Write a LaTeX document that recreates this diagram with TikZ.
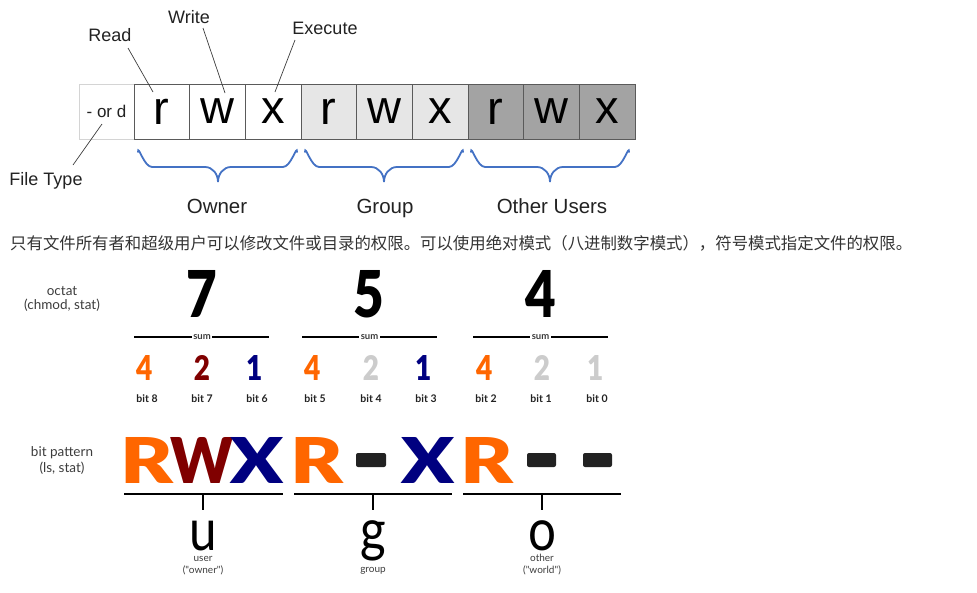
\documentclass[tikz,border=0pt]{standalone}
\usepackage{fontspec}
\usepackage{graphicx}
\setmainfont{Liberation Sans}
\newfontfamily\cjkfnt{Noto Sans CJK SC}
\newfontfamily\latofnt{Lato}
\IfFontExistsTF{Lato Black}{\newfontfamily\heavyfnt{Lato Black}}{%
  \IfFontExistsTF{Fira Sans Heavy}{\newfontfamily\heavyfnt{Fira Sans Heavy}}{%
    \newfontfamily\heavyfnt{DejaVu Sans Bold}}}
\newcommand\fsz[1]{\fontsize{#1}{#1}\selectfont}
\definecolor{cellborder}{HTML}{5A5A5A}
\definecolor{lightborder}{HTML}{D4D4D4}
\definecolor{grpfill}{HTML}{E6E6E6}
\definecolor{othfill}{HTML}{A3A3A3}
\definecolor{bracecol}{HTML}{4472C4}
\definecolor{txt}{HTML}{222222}
\definecolor{leader}{HTML}{3C3C3C}
\definecolor{orng}{HTML}{FF6600}
\definecolor{dred}{HTML}{800000}
\definecolor{nvy}{HTML}{000080}
\definecolor{lgr}{HTML}{CCCCCC}
\definecolor{cjktxt}{HTML}{333333}
\definecolor{lbltxt}{HTML}{3C3C3C}
\begin{document}
\begin{tikzpicture}[x=1pt,y=-1pt,
  cell/.style={draw=cellborder, line width=0.8pt, minimum width=55.67pt, minimum height=55pt, inner sep=0pt, font=\fsz{47}, text=black},
  toplbl/.style={inner sep=0pt, anchor=base, font=\fsz{18}, text=txt},
  grplbl/.style={inner sep=0pt, anchor=base, font=\fsz{20.5}, text=txt},
  leaderline/.style={draw=leader, line width=0.7pt},
  bracepath/.style={draw=bracecol, line width=1.8pt, line cap=round},
  sidelbl/.style={inner sep=0pt, font=\latofnt\fsz{13.5}, text=lbltxt},
  sumline/.style={draw=black, line width=1.6pt},
  sumlbl/.style={fill=white, inner sep=1.5pt, font=\latofnt\bfseries\fsz{9.5}, text=lbltxt},
  bitlbl/.style={inner sep=0pt, font=\latofnt\bfseries\fsz{10.5}, text=txt},
  glyph/.style={inner sep=0pt},
  dashbar/.style={fill=txt, rounded corners=2pt},
  ugoline/.style={draw=black, line width=2.6pt},
  ugotick/.style={draw=black, line width=2.4pt},
  ugo/.style={inner sep=0pt, anchor=base, font=\latofnt\fsz{58}, text=black},
  ugolbl/.style={inner sep=0pt, anchor=base, font=\latofnt\fsz{10}, text=lbltxt}
]
\useasboundingbox (0,0) rectangle (977,592);

% ---------------- top: permission cells ----------------
\node[draw=lightborder, line width=0.8pt, minimum width=55pt, minimum height=55pt, inner sep=0pt, font=\fsz{17}, text=txt] (ftbox) at (106.5,111.5) {- or d};
\node[cell] (c1) at (161.8,111.5) {\raisebox{-1.5pt}{r}};
\node[cell] (c2) at (217.5,111.5) {\raisebox{-1.5pt}{w}};
\node[cell] (c3) at (273.2,111.5) {\raisebox{-1.5pt}{x}};
\node[cell, fill=grpfill] (c4) at (328.8,111.5) {\raisebox{-1.5pt}{r}};
\node[cell, fill=grpfill] (c5) at (384.5,111.5) {\raisebox{-1.5pt}{w}};
\node[cell, fill=grpfill] (c6) at (440.2,111.5) {\raisebox{-1.5pt}{x}};
\node[cell, fill=othfill] (c7) at (495.8,111.5) {\raisebox{-1.5pt}{r}};
\node[cell, fill=othfill] (c8) at (551.5,111.5) {\raisebox{-1.5pt}{w}};
\node[cell, fill=othfill] (c9) at (607.2,111.5) {\raisebox{-1.5pt}{x}};

\node[toplbl] (read) at (110,41) {Read};
\node[toplbl] (write) at (189,23) {Write};
\node[toplbl] (exec) at (325,34) {Execute};
\node[toplbl] (ftype) at (46,185) {File Type};

\coordinate (readA) at (128,48);  \coordinate (readB) at (153,92);
\coordinate (writeA) at (203,28); \coordinate (writeB) at (225,93);
\coordinate (execA) at (295,40);  \coordinate (execB) at (275,92);
\coordinate (ftA) at (102,124);   \coordinate (ftB) at (73,165);
\draw[leaderline] (readA) -- (readB);
\draw[leaderline] (writeA) -- (writeB);
\draw[leaderline] (execA) -- (execB);
\draw[leaderline] (ftA) -- (ftB);

% braces
\foreach \a/\m/\b in {138/218/297, 305/384/463, 471/550/629}{
  \draw[bracepath] (\a,152) to[out=90,in=180] ++(14,15) -- (\m-13,167)
     to[out=0,in=90] (\m,182) to[out=90,in=180] (\m+13,167) -- (\b-14,167)
     to[out=0,in=90] (\b,152);
}
\node[grplbl] (owner) at (217,213) {Owner};
\node[grplbl] (group) at (385,213) {Group};
\node[grplbl] (others) at (552,213) {Other Users};

% ---------------- Chinese sentence ----------------
\node[anchor=west, inner sep=0pt, font=\cjkfnt\fsz{16.4}, text=cjktxt] (note) at (10,243)
  {只有文件所有者和超级用户可以修改文件或目录的权限。可以使用绝对模式（八进制数字模式），符号模式指定文件的权限。};

% ---------------- octal row ----------------
\node[sidelbl] (octat) at (62,291) {octat};
\node[sidelbl] (octat2) at (62,305) {(chmod, stat)};
\node[glyph] (o7) at (202,294) {\resizebox{!}{47pt}{\scalebox{0.82}[1]{\heavyfnt 7}}};
\node[glyph] (o5) at (369,294) {\resizebox{!}{47pt}{\scalebox{0.82}[1]{\heavyfnt 5}}};
\node[glyph] (o4) at (541,294) {\resizebox{!}{47pt}{\scalebox{0.82}[1]{\heavyfnt 4}}};

\coordinate (s1a) at (134,337); \coordinate (s1b) at (269,337);
\coordinate (s2a) at (302,337); \coordinate (s2b) at (437,337);
\coordinate (s3a) at (473,337); \coordinate (s3b) at (608,337);
\draw[sumline] (s1a) -- (s1b);
\draw[sumline] (s2a) -- (s2b);
\draw[sumline] (s3a) -- (s3b);
\node[sumlbl] (sum1) at (202,337) {sum};
\node[sumlbl] (sum2) at (369.5,337) {sum};
\node[sumlbl] (sum3) at (540.5,337) {sum};

\newcommand\smalldigit[1]{\resizebox{!}{25pt}{\scalebox{0.82}[1]{\heavyfnt #1}}}
\node[glyph, text=orng] (d8) at (145,368) {\smalldigit{4}};
\node[glyph, text=dred] (d7) at (202,368) {\smalldigit{2}};
\node[glyph, text=nvy]  (d6) at (255,368) {\smalldigit{1}};
\node[glyph, text=orng] (d5) at (313,368) {\smalldigit{4}};
\node[glyph, text=lgr]  (d4) at (371,368) {\smalldigit{2}};
\node[glyph, text=nvy]  (d3) at (424,368) {\smalldigit{1}};
\node[glyph, text=orng] (d2) at (485,368) {\smalldigit{4}};
\node[glyph, text=lgr]  (d1) at (542,368) {\smalldigit{2}};
\node[glyph, text=lgr]  (d0) at (596,368) {\smalldigit{1}};

\node[bitlbl] (b8) at (147,399) {bit 8};
\node[bitlbl] (b7) at (202,399) {bit 7};
\node[bitlbl] (b6) at (257,399) {bit 6};
\node[bitlbl] (b5) at (315,399) {bit 5};
\node[bitlbl] (b4) at (371,399) {bit 4};
\node[bitlbl] (b3) at (426,399) {bit 3};
\node[bitlbl] (b2) at (486,399) {bit 2};
\node[bitlbl] (b1) at (541,399) {bit 1};
\node[bitlbl] (b0) at (597,399) {bit 0};

% ---------------- bit pattern row ----------------
\node[sidelbl] (bitpat) at (62,453) {bit pattern};
\node[sidelbl] (bitpat2) at (62,468) {(ls, stat)};
\newcommand\biglet[2]{\resizebox{#1}{46pt}{\heavyfnt #2}}
\node[glyph, text=orng] (pR1) at (147,460) {\biglet{53pt}{R}};
\node[glyph, text=dred] (pW1) at (202.5,460) {\biglet{63pt}{W}};
\node[glyph, text=nvy]  (pX1) at (257.5,460) {\biglet{53pt}{X}};
\node[glyph, text=orng] (pR2) at (316.5,460) {\biglet{53pt}{R}};
\node[glyph, text=nvy]  (pX2) at (428,460) {\biglet{53pt}{X}};
\node[glyph, text=orng] (pR3) at (486.5,460) {\biglet{53pt}{R}};
\fill[dashbar] (356,453) rectangle (386,467);
\fill[dashbar] (527,453) rectangle (556,467);
\fill[dashbar] (583,453) rectangle (612,467);

\coordinate (u1a) at (124,494); \coordinate (u1b) at (283,494);
\coordinate (u2a) at (294,494); \coordinate (u2b) at (452,494);
\coordinate (u3a) at (463,494); \coordinate (u3b) at (621,494);
\draw[ugoline] (u1a) -- (u1b);
\draw[ugoline] (u2a) -- (u2b);
\draw[ugoline] (u3a) -- (u3b);
\coordinate (t1) at (203,494); \coordinate (t1e) at (203,510);
\coordinate (t2) at (373,494); \coordinate (t2e) at (373,510);
\coordinate (t3) at (542,494); \coordinate (t3e) at (542,510);
\draw[ugotick] (t1) -- (t1e);
\draw[ugotick] (t2) -- (t2e);
\draw[ugotick] (t3) -- (t3e);

\node[ugo] (uu) at (203,550) {\scalebox{0.85}[1]{u}};
\node[ugo] (gg) at (373,550) {\scalebox{0.85}[1]{g}};
\node[ugo] (oo) at (542,550) {\scalebox{0.85}[1]{o}};
\node[ugolbl] (ulbl) at (203,561.5) {user};
\node[ugolbl] (ulbl2) at (203,573) {("owner")};
\node[ugolbl] (glbl) at (373,572) {group};
\node[ugolbl] (olbl) at (542,561.5) {other};
\node[ugolbl] (olbl2) at (542,573) {("world")};
\end{tikzpicture}
\end{document}
